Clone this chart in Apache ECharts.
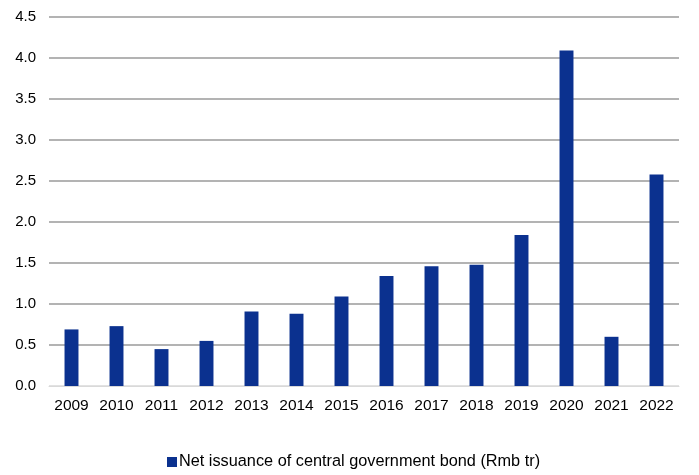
<!DOCTYPE html>
<html>
<head>
<meta charset="utf-8">
<script src="https://cdn.jsdelivr.net/npm/echarts@6/dist/echarts.min.js"></script>
<style>
  html, body { margin: 0; padding: 0; background: #fff; }
  #chart { width: 699px; height: 475px; }
</style>
</head>
<body>
<div id="chart"></div>
<script>
// Net issuance of central government bonds, Rmb trillion
const years = ['2009', '2010', '2011', '2012', '2013', '2014', '2015',
               '2016', '2017', '2018', '2019', '2020', '2021', '2022'];
const netIssuance = [0.69, 0.73, 0.45, 0.55, 0.91, 0.88, 1.09,
                     1.34, 1.46, 1.48, 1.84, 4.09, 0.60, 2.58];
const seriesName = 'Net issuance of central government bond (Rmb tr)';

// first grid line (the baseline) is lighter than the rest
const gridColors = ['#d9d9d9', '#9a9a9a', '#9a9a9a', '#9a9a9a', '#9a9a9a',
                    '#9a9a9a', '#9a9a9a', '#9a9a9a', '#9a9a9a', '#9a9a9a'];

const chart = echarts.init(document.getElementById('chart'), null, { renderer: 'canvas' });
chart.setOption({
  animation: false,
  textStyle: { fontFamily: 'Liberation Sans, Arial, sans-serif' },
  grid: { left: 49, right: 20, top: 17, bottom: 89 },
  xAxis: {
    type: 'category',
    data: years,
    axisLine: { show: true, lineStyle: { color: '#d9d9d9', width: 1 } },
    axisTick: { show: false },
    axisLabel: { color: '#000', fontSize: 15.5, margin: 12 }
  },
  yAxis: {
    type: 'value',
    min: 0,
    max: 4.5,
    interval: 0.5,
    axisLine: { show: false },
    axisTick: { show: false },
    axisLabel: {
      color: '#000', fontSize: 15, margin: 13,
      formatter: v => v.toFixed(1)
    },
    splitLine: { show: true, lineStyle: { color: gridColors, width: 1.7 } }
  },
  legend: {
    bottom: 5,
    left: 167,
    padding: 0,
    icon: 'rect',
    itemWidth: 10,
    itemHeight: 10,
    textStyle: { color: '#000', fontSize: 16.3, padding: [0, 0, 0, -3] },
    data: [seriesName]
  },
  series: [{
    name: seriesName,
    type: 'bar',
    data: netIssuance,
    barWidth: '31%',
    itemStyle: { color: '#0b318f' }
  }]
});
</script>
</body>
</html>
